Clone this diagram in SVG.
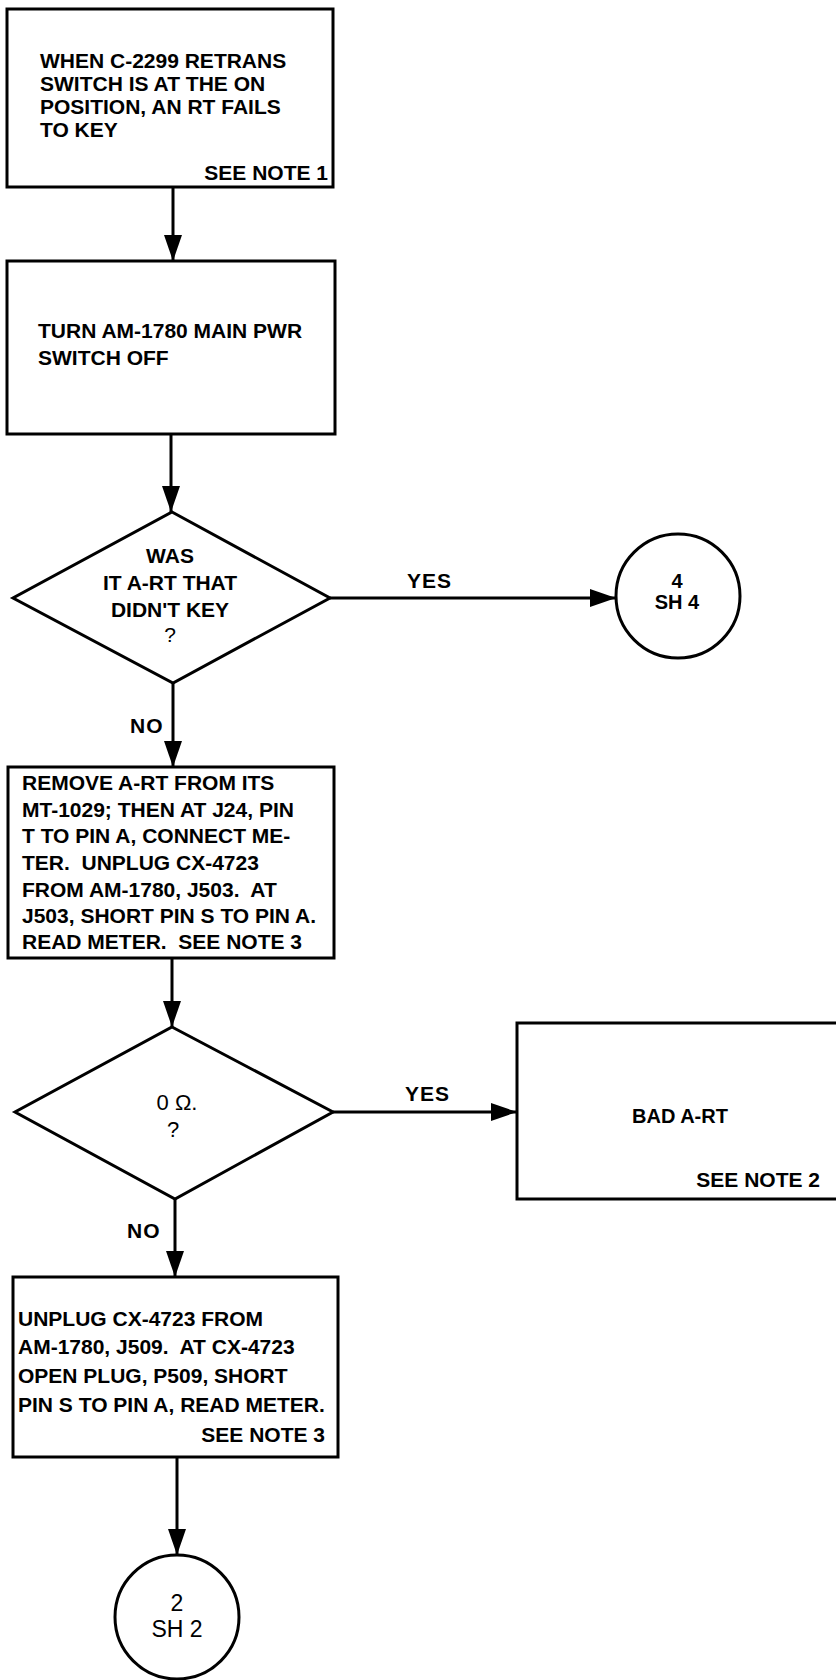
<svg xmlns="http://www.w3.org/2000/svg" width="836" height="1680" viewBox="0 0 836 1680">
<style>
.shape{fill:#fff;stroke:#000;stroke-width:3;stroke-linejoin:miter}
.conn{stroke:#000;stroke-width:3;fill:none}
.t{font-family:"Liberation Sans",Arial,sans-serif;font-weight:bold;font-size:21px;fill:#000}
.m{text-anchor:middle}
.e{text-anchor:end}
.r{font-weight:normal}
.lbl{font-family:"Liberation Sans",Arial,sans-serif;font-weight:bold;font-size:21px;fill:#000;letter-spacing:1px}
</style>
<defs>
<marker id="arr" markerUnits="userSpaceOnUse" markerWidth="26" markerHeight="18" refX="26" refY="9" orient="auto">
<path d="M0,0 L26,9 L0,18 z" fill="#000"/>
</marker>
</defs>
<rect width="836" height="1680" fill="#fff"/>
<g id="connectors">
<line class="conn" x1="173" y1="187" x2="173" y2="261" marker-end="url(#arr)"/>
<line class="conn" x1="171" y1="434" x2="171" y2="512" marker-end="url(#arr)"/>
<line class="conn" x1="330" y1="598" x2="616" y2="598" marker-end="url(#arr)"/>
<line class="conn" x1="173" y1="683" x2="173" y2="767" marker-end="url(#arr)"/>
<line class="conn" x1="172" y1="958" x2="172" y2="1027" marker-end="url(#arr)"/>
<line class="conn" x1="333" y1="1112" x2="517" y2="1112" marker-end="url(#arr)"/>
<line class="conn" x1="175" y1="1199" x2="175" y2="1277" marker-end="url(#arr)"/>
<line class="conn" x1="177" y1="1457" x2="177" y2="1555" marker-end="url(#arr)"/>
<text class="lbl" x="407" y="588">YES</text>
<text class="lbl" x="130" y="733">NO</text>
<text class="lbl" x="405" y="1101">YES</text>
<text class="lbl" x="127" y="1238">NO</text>
</g>
<g id="start">
<rect class="shape" x="7" y="9" width="326" height="178"/>
<text class="t" x="40" y="68">WHEN C-2299 RETRANS</text>
<text class="t" x="40" y="91">SWITCH IS AT THE ON</text>
<text class="t" x="40" y="114">POSITION, AN RT FAILS</text>
<text class="t" x="40" y="137">TO KEY</text>
<text class="t e" x="328" y="180">SEE NOTE 1</text>
</g>
<g id="turn-off">
<rect class="shape" x="7" y="261" width="328" height="173"/>
<text class="t" x="38" y="338">TURN AM-1780 MAIN PWR</text>
<text class="t" x="38" y="365">SWITCH OFF</text>
</g>
<g id="decision-art">
<polygon class="shape" points="172,512 330,598 173,683 13,598"/>
<text class="t m" x="170" y="563">WAS</text>
<text class="t m" x="170" y="590">IT A-RT THAT</text>
<text class="t m" x="170" y="617">DIDN'T KEY</text>
<text class="t m r" x="170" y="642">?</text>
</g>
<g id="sheet4">
<circle class="shape" cx="678" cy="596" r="62"/>
<text class="t m" x="677" y="588" style="font-size:20px">4</text>
<text class="t m" x="677" y="609" style="font-size:20px">SH 4</text>
</g>
<g id="remove-art">
<rect class="shape" x="8" y="767" width="326" height="191"/>
<text class="t" x="22" y="790" xml:space="preserve">REMOVE A-RT FROM ITS</text>
<text class="t" x="22" y="817" xml:space="preserve">MT-1029; THEN AT J24, PIN</text>
<text class="t" x="22" y="843" xml:space="preserve">T TO PIN A, CONNECT ME-</text>
<text class="t" x="22" y="870" xml:space="preserve">TER.  UNPLUG CX-4723</text>
<text class="t" x="22" y="897" xml:space="preserve">FROM AM-1780, J503.  AT</text>
<text class="t" x="22" y="923" xml:space="preserve">J503, SHORT PIN S TO PIN A.</text>
<text class="t" x="22" y="949" xml:space="preserve">READ METER.  SEE NOTE 3</text>
</g>
<g id="decision-ohm">
<polygon class="shape" points="172,1027 333,1112 175,1199 15,1112"/>
<text class="t m r" x="177" y="1110" style="font-size:22px">0 Ω.</text>
<text class="t m r" x="173" y="1137" style="font-size:22px">?</text>
</g>
<g id="bad-art">
<path class="shape" d="M840,1023 L517,1023 L517,1199 L840,1199"/>
<text class="t" x="632" y="1123" style="font-size:20px">BAD A-RT</text>
<text class="t e" x="820" y="1187">SEE NOTE 2</text>
</g>
<g id="unplug">
<rect class="shape" x="13" y="1277" width="325" height="180"/>
<text class="t" x="18" y="1326" xml:space="preserve">UNPLUG CX-4723 FROM</text>
<text class="t" x="18" y="1354" xml:space="preserve">AM-1780, J509.  AT CX-4723</text>
<text class="t" x="18" y="1383" xml:space="preserve">OPEN PLUG, P509, SHORT</text>
<text class="t" x="18" y="1412" xml:space="preserve">PIN S TO PIN A, READ METER.</text>
<text class="t e" x="325" y="1442">SEE NOTE 3</text>
</g>
<g id="sheet2">
<circle class="shape" cx="177" cy="1617" r="62"/>
<text class="t m r" x="177" y="1611" style="font-size:23px">2</text>
<text class="t m r" x="177" y="1637" style="font-size:23px">SH 2</text>
</g>
</svg>
